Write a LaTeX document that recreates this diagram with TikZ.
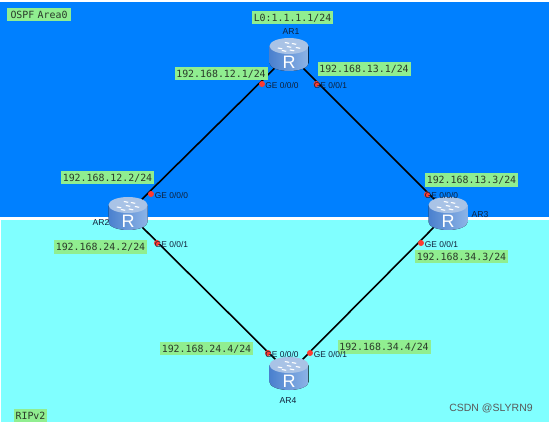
\documentclass[tikz,border=0pt]{standalone}
\usepackage{fontspec}
\setmainfont{Liberation Sans}
\newfontfamily\lblmono{DejaVu Sans Mono}
\definecolor{areablue}{HTML}{0080FF}
\definecolor{areacyan}{HTML}{80FFFF}
\definecolor{lblgreen}{HTML}{90EE90}
\definecolor{lbltext}{HTML}{2A3A2A}
\definecolor{portred}{HTML}{FF3B30}
\definecolor{porttext}{HTML}{10203A}
\definecolor{rtdark}{HTML}{4A80CE}
\definecolor{rtlight}{HTML}{8DB4E6}
\definecolor{rttop}{HTML}{A9C3E6}
\tikzset{
  x=1pt,y=-1pt,
  addr/.style={fill=lblgreen,text=lbltext,font=\lblmono\fontsize{9.9}{11}\selectfont,inner sep=0pt,minimum height=13.5pt,text depth=0pt,anchor=center,text width=#1,align=center},
  addr/.default=93pt,
  port/.style={circle,fill=portred,inner sep=0pt,minimum size=6pt},
  portlbl/.style={text=porttext,font=\fontsize{8.4}{10}\selectfont,inner sep=0pt,anchor=center},
  rname/.style={text=porttext,font=\fontsize{8.6}{10}\selectfont,inner sep=0pt,anchor=center},
  rhub/.style={inner sep=0pt,minimum width=40pt,minimum height=33pt},
  wire/.style={draw=black,line width=1.6pt},
  pics/router/.style={code={
    \fill[left color=rtdark,right color=rtlight] (-19.5,-8) -- (-19.5,9) arc[x radius=19.5pt,y radius=8pt,start angle=180,end angle=360,y=1pt] -- (19.5,-8) -- cycle;
    \fill[rttop] (0,-8) ellipse[x radius=19.5pt,y radius=8pt];
    \foreach \a/\b in {-9/-6,-2/-11.5,5/-10.5,9/-6.5,-5/-3.5,3/-4,0/-7.5}{
      \draw[white,line width=1.1pt] (\a-2.2,\b) -- (\a+2.2,\b+0.8);
    }
    \node[white,font=\fontsize{18}{20}\selectfont,inner sep=0pt] at (0,8.5) {R};
  }}
}
\begin{document}
\begin{tikzpicture}
\useasboundingbox (0,0) rectangle (549,422);
\fill[white] (0,0) rectangle (549,422);
\fill[areablue] (0,2) rectangle (549,217);
\fill[areacyan] (1,220) rectangle (549,422);
% router anchors
\node[rhub] (r1) at (289,54) {};
\node[rhub] (r2) at (128,213) {};
\node[rhub] (r3) at (448,213) {};
\node[rhub] (r4) at (289,373) {};
% links
\draw[wire] (r1.center) -- (r2.center);
\draw[wire] (r1.center) -- (r3.center);
\draw[wire] (r2.center) -- (r4.center);
\draw[wire] (r3.center) -- (r4.center);
% routers
\pic at (r1) {router};
\pic at (r2) {router};
\pic at (r3) {router};
\pic at (r4) {router};
% addresses
\node[addr=64pt] (t0) at (39,14.5) {OSPF Area0};
\node[addr=81pt] (t1) at (292.5,17.5) {L0:1.1.1.1/24};
\node[addr] (a1) at (221,73.5) {192.168.12.1/24};
\node[addr] (a2) at (364,69) {192.168.13.1/24};
\node[addr] (a3) at (107.5,177.5) {192.168.12.2/24};
\node[addr] (a4) at (471.5,180) {192.168.13.3/24};
\node[addr] (a5) at (100.5,247) {192.168.24.2/24};
\node[addr] (a6) at (461.5,256.5) {192.168.34.3/24};
\node[addr] (a7) at (206.5,348.5) {192.168.24.4/24};
\node[addr] (a8) at (384,347) {192.168.34.4/24};
\node[addr=33pt] (t2) at (30.5,416) {RIPv2};
% ports
\node[port] (p1a) at (262,84) {};
\node[port] (p1b) at (316.5,84) {};
\node[port] (p2a) at (151,194) {};
\node[port] (p3a) at (427,194.5) {};
\node[port] (p2b) at (157,243) {};
\node[port] (p3b) at (421,243) {};
\node[port] (p4a) at (268,353) {};
\node[port] (p4b) at (310,353) {};
% port names
\node[portlbl] (g1a) at (282,85) {GE 0/0/0};
\node[portlbl] (g1b) at (330.5,85) {GE 0/0/1};
\node[portlbl] (g2a) at (171.5,195) {GE 0/0/0};
\node[portlbl] (g3a) at (441.5,195) {GE 0/0/0};
\node[portlbl] (g2b) at (171.5,244) {GE 0/0/1};
\node[portlbl] (g3b) at (441.5,244) {GE 0/0/1};
\node[portlbl] (g4a) at (282,354) {GE 0/0/0};
\node[portlbl] (g4b) at (330.5,354) {GE 0/0/1};
% router names
\node[rname] (n1) at (291,32) {AR1};
\node[rname] (n2) at (101,222) {AR2};
\node[rname] (n3) at (480,215) {AR3};
\node[rname] (n4) at (288,401) {AR4};
% watermark
\node[text=gray!70!black,font=\fontsize{10.5}{12}\selectfont,inner sep=0pt] (wm) at (491,408) {CSDN @SLYRN9};
\end{tikzpicture}
\end{document}
